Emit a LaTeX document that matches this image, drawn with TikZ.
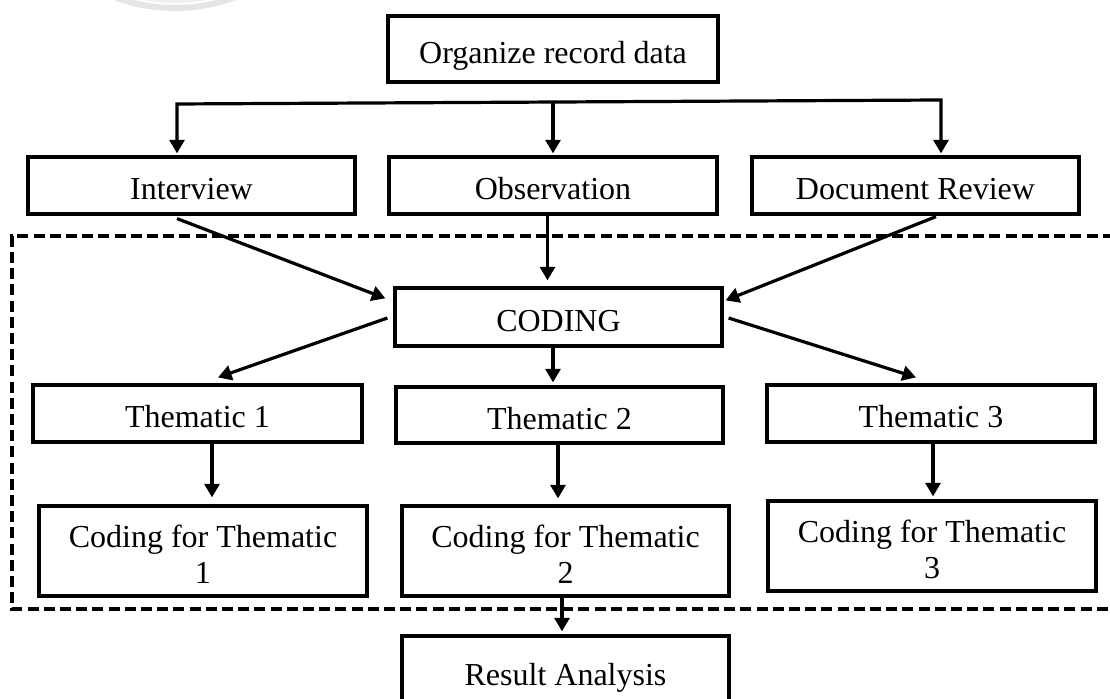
\documentclass[tikz,border=0pt]{standalone}
\usepackage{fontspec}
\setmainfont{Liberation Serif}
\usetikzlibrary{arrows.meta}

\tikzset{
  box/.style={draw=black, line width=1.6pt, fill=white, inner sep=0pt,
    minimum width=163.5pt, minimum height=28.5pt, align=center,
    text height=14.4pt, text depth=0pt,
    font=\fontsize{16}{18}\selectfont},
  % two-line boxes: the text box is anchored on its last line
  tallbox/.style={box, minimum height=45pt, text height=32.9pt, text depth=0pt},
  link/.style={draw=black, line width=1.6pt},
  arr/.style={link, -{Triangle[width=7.5pt,length=6.8pt]}},
  frame/.style={draw=black, line width=1.6pt, dash pattern=on 5.5pt off 2.6pt},
}

\begin{document}
\begin{tikzpicture}[x=0.5pt, y=-0.5pt]
  \useasboundingbox (0,0) rectangle (1110,699);
  \clip (0,0) rectangle (1110,699);

  % faint seal in the top margin
  \draw[black!10, line width=3pt] (175,-163) circle (171);
  \draw[black!6, line width=2pt] (175,-163) circle (164);

  % dashed frame round the coding stage (open on the right)
  \draw[frame] (1130,236) -- (12,236) -- (12,609) -- (1130,609);

  % boxes
  \node[box, minimum width=165pt, minimum height=33pt] (org) at (553,49) {Organize record data};

  \node[box] (intv) at (191.5,185.5) {Interview};
  \node[box, minimum width=164pt] (obs) at (553,185.5) {Observation};
  \node[box] (doc) at (915.5,185.5) {Document Review};

  \node[box, minimum height=29pt] (coding) at (558.5,317) {CODING};

  \node[box, minimum width=164.5pt] (t1) at (197.5,413.5) {Thematic 1};
  \node[box, minimum height=28pt] (t2) at (559.5,415) {Thematic 2};
  \node[box, minimum width=164pt] (t3) at (931,413.5) {Thematic 3};

  \node[tallbox, minimum width=164pt] (c1) at (203,551) {Coding for Thematic\\1};
  \node[tallbox] (c2) at (565.5,551) {Coding for Thematic\\2};
  \node[tallbox, minimum width=164pt] (c3) at (932,546) {Coding for Thematic\\3};

  \node[box, minimum height=35pt] (res) at (565.5,671) {Result Analysis};

  % distribution bus under the top box
  \coordinate (busL) at (177,104);
  \coordinate (busM) at (553,102);
  \coordinate (busR) at (941,100);
  \draw[link, line join=miter,
        {Triangle[width=7.5pt,length=6.8pt]}-{Triangle[width=7.5pt,length=6.8pt]},
        shorten <=1pt, shorten >=1pt]
    (busL |- intv.north) -- (busL) -- (busR) -- (busR |- doc.north);
  \draw[arr, shorten >=1pt] (busM) -- (busM |- obs.north);

  % sources into coding
  \draw[arr] ([shift={(-14.5,3)}]intv.south) -- ([shift={(-8,12)}]coding.north west);
  \draw[arr, shorten >=3pt] ([xshift=-2.75pt]obs.south) -- ([xshift=-2.75pt]obs.south |- coding.north);
  \draw[arr] ([shift={(20.5,1)}]doc.south) -- ([shift={(2,14)}]coding.north east);

  % coding into themes
  \draw[arr] ([shift={(-6,1)}]coding.west) -- ([shift={(20.5,-6)}]t1.north);
  \draw[arr, shorten >=1.5pt] ([xshift=-2.75pt]coding.south) -- ([xshift=-2.75pt]coding.south |- t2.north);
  \draw[arr] ([shift={(5,1)}]coding.east) -- ([shift={(-15,-6)}]t3.north);

  % themes into their coding
  \draw[arr, shorten >=3.5pt] ([xshift=7.25pt]t1.south) -- ([xshift=7.25pt]t1.south |- c1.north);
  \draw[arr, shorten >=3pt] ([xshift=-0.75pt]t2.south) -- ([xshift=-0.75pt]t2.south |- c2.north);
  \draw[arr, shorten >=1.5pt] ([xshift=1pt]t3.south) -- ([xshift=1pt]t3.south |- c3.north);

  % on to the analysis
  \draw[arr, shorten >=1.5pt] ([xshift=-1.75pt]c2.south) -- ([xshift=-1.75pt]c2.south |- res.north);
\end{tikzpicture}
\end{document}
